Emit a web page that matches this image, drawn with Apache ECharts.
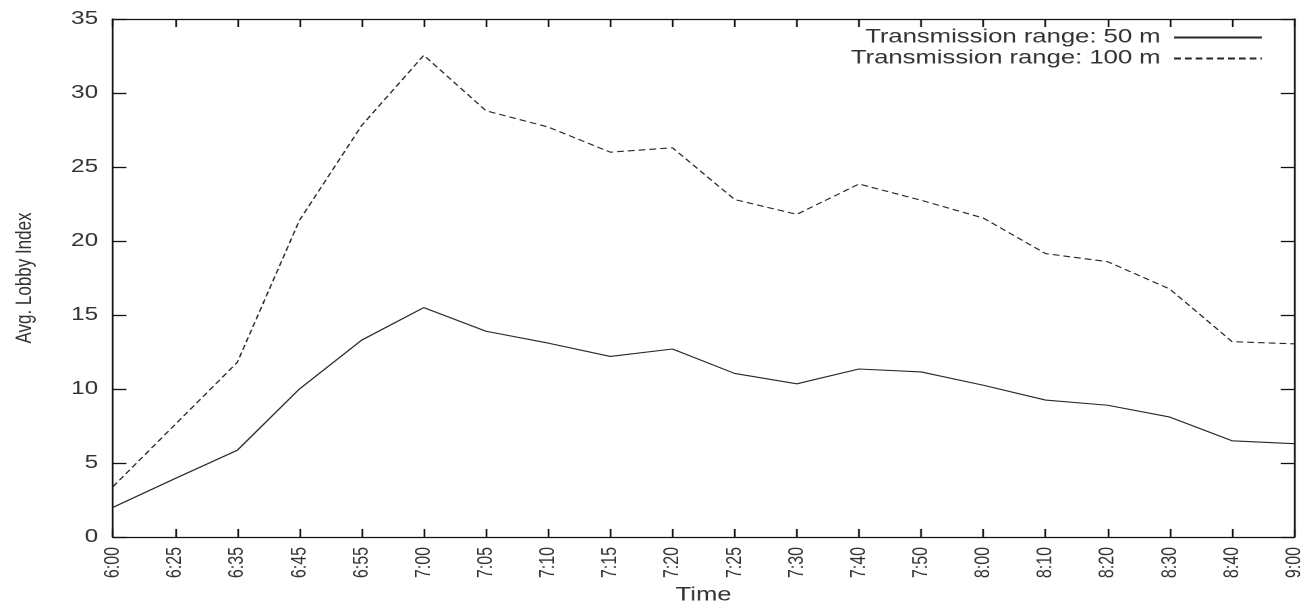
<!DOCTYPE html>
<html>
<head>
<meta charset="utf-8">
<script src="https://cdn.jsdelivr.net/npm/echarts@6/dist/echarts.min.js"></script>
<style>
  html, body { margin: 0; padding: 0; background: #fff; }
  #wrap { width: 1305px; height: 610px; overflow: hidden; }
  #chart { width: 967px; height: 610px; transform: scaleX(1.3495); transform-origin: 0 0; }
</style>
</head>
<body>
<div id="wrap"><div id="chart"></div></div>
<script>
const categories = ['6:00','6:25','6:35','6:45','6:55','7:00','7:05','7:10','7:15','7:20','7:25','7:30','7:40','7:50','8:00','8:10','8:20','8:30','8:40','9:00'];
const range50 = [2.0, 3.95, 5.86, 10.0, 13.3, 15.5, 13.9, 13.1, 12.2, 12.7, 11.05, 10.35, 11.35, 11.15, 10.25, 9.25, 8.9, 8.1, 6.5, 6.3];
const range100 = [3.4, 7.6, 11.8, 21.4, 27.8, 32.55, 28.8, 27.7, 26.0, 26.3, 22.8, 21.8, 23.85, 22.75, 21.55, 19.15, 18.6, 16.75, 13.2, 13.05];
const seriesNames = ['Transmission range: 50 m', 'Transmission range: 100 m'];
const yTicks = { min: 0, max: 35, interval: 5 };

const FONT = "'Liberation Sans', Arial, sans-serif";
const TXT = '#333';
const AX = '#111';
const LINE = '#262626';

const chart = echarts.init(document.getElementById('chart'), null, { renderer: 'canvas', devicePixelRatio: 2 });

const axisLine = { show: true, onZero: false, lineStyle: { color: AX, width: 1.3 } };

const legendBase = {
  orient: 'vertical', align: 'right', right: 31, padding: 0,
  itemWidth: 65, itemHeight: 12,
  itemStyle: { opacity: 0 },
  textStyle: { fontSize: 19, color: TXT, fontFamily: FONT, padding: [0, 5, 0, 0] }
};

chart.setOption({
  animation: false,
  backgroundColor: '#fff',
  textStyle: { fontFamily: FONT },
  grid: { left: 83.7, right: 7.4, top: 19, bottom: 60, containLabel: false },
  legend: [
    Object.assign({}, legendBase, { data: [seriesNames[0]], top: 28 }),
    Object.assign({}, legendBase, { data: [seriesNames[1]], top: 49 })
  ],
  xAxis: [
    {
      type: 'category', data: categories, boundaryGap: false, position: 'bottom',
      axisLine: axisLine,
      axisTick: { show: true, inside: true, length: 8, lineStyle: { color: AX, width: 1.3 } },
      axisLabel: { rotate: 90, fontSize: 16, margin: 10, color: TXT, interval: 0, fontFamily: FONT },
      splitLine: { show: false },
      name: 'Time', nameLocation: 'middle', nameGap: 40,
      nameTextStyle: { fontSize: 19, color: TXT, fontFamily: FONT }
    },
    {
      type: 'category', data: categories, boundaryGap: false, position: 'top',
      axisLine: axisLine,
      axisTick: { show: true, inside: true, length: 8, lineStyle: { color: AX, width: 1.3 } },
      axisLabel: { show: false },
      splitLine: { show: false }
    }
  ],
  yAxis: [
    {
      type: 'value', min: yTicks.min, max: yTicks.max, interval: yTicks.interval, position: 'left',
      axisLine: axisLine,
      axisTick: { show: true, inside: true, length: 10, lineStyle: { color: AX, width: 1.3 } },
      axisLabel: { fontSize: 18, margin: 11, color: TXT, fontFamily: FONT },
      splitLine: { show: false },
      name: 'Avg. Lobby Index', nameLocation: 'middle', nameGap: 57,
      nameTextStyle: { fontSize: 17, color: TXT, fontFamily: FONT }
    },
    {
      type: 'value', min: yTicks.min, max: yTicks.max, interval: yTicks.interval, position: 'right',
      axisLine: axisLine,
      axisTick: { show: true, inside: true, length: 10, lineStyle: { color: AX, width: 1.3 } },
      axisLabel: { show: false },
      splitLine: { show: false }
    }
  ],
  series: [
    {
      name: seriesNames[0], type: 'line', data: range50, xAxisIndex: 0, yAxisIndex: 0,
      symbol: 'none', color: LINE,
      lineStyle: { color: LINE, width: 1.1, type: 'solid' }
    },
    {
      name: seriesNames[1], type: 'line', data: range100, xAxisIndex: 0, yAxisIndex: 0,
      symbol: 'none', color: LINE,
      lineStyle: { color: LINE, width: 1.1, type: [5, 3] }
    }
  ]
});
</script>
</body>
</html>
